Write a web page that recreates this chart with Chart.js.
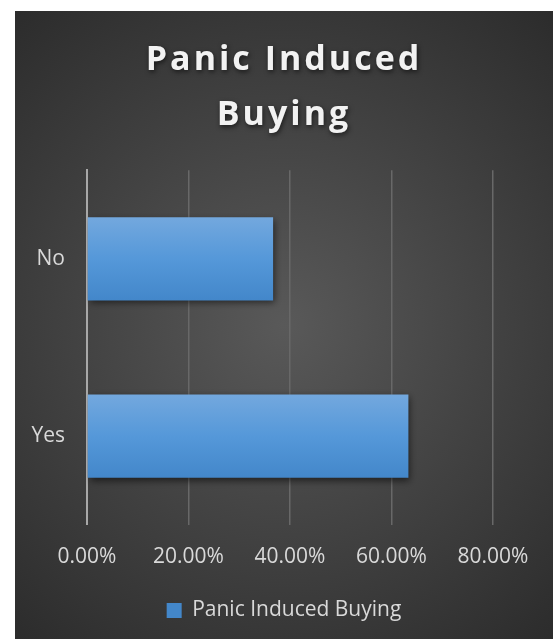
<!DOCTYPE html>
<html>
<head>
<meta charset="utf-8">
<script src="https://cdn.jsdelivr.net/npm/chart.js@4/dist/chart.umd.min.js"></script>
<style>
  body { margin: 0; background: #ffffff; }
  #wrap { width: 553px; height: 639px; }
</style>
</head>
<body>
<div id="wrap"><canvas id="panicChart" width="553" height="639"></canvas></div>
<script>
// chart data
const categories = ['No', 'Yes'];
const seriesName = 'Panic Induced Buying';
const seriesValues = [0.3667, 0.6333];
const titleLines = ['Panic Induced', 'Buying'];
const xTicks = { min: 0, max: 0.8, step: 0.2 };

// dark radial background behind the chart
const backgroundPanel = {
  id: 'backgroundPanel',
  beforeDraw(chart) {
    const ctx = chart.ctx;
    const x = 15, y = 11, w = chart.width - 15, h = chart.height - 11;
    const g = ctx.createRadialGradient(x + w / 2, y + h / 2, 0, x + w / 2, y + h / 2, 430);
    g.addColorStop(0, '#595959');
    g.addColorStop(1, '#2a2a2a');
    ctx.save();
    ctx.fillStyle = g;
    ctx.fillRect(x, y, w, h);
    ctx.restore();
  }
};

// title with letter spacing and a soft shadow
const titleStyle = {
  id: 'titleStyle',
  afterInit(chart) {
    const block = chart.titleBlock;
    const origDraw = block.draw.bind(block);
    block.draw = function () {
      const ctx = chart.ctx;
      ctx.save();
      ctx.letterSpacing = '3px';
      ctx.shadowColor = 'rgba(0,0,0,0.6)';
      ctx.shadowBlur = 5;
      ctx.shadowOffsetX = 1;
      ctx.shadowOffsetY = 2;
      origDraw();
      ctx.restore();
    };
  }
};

// drop shadow under the bars
const barShadow = {
  id: 'barShadow',
  beforeDatasetsDraw(chart) {
    const ctx = chart.ctx;
    ctx.save();
    ctx.shadowColor = 'rgba(0,0,0,0.55)';
    ctx.shadowBlur = 7;
    ctx.shadowOffsetX = 2;
    ctx.shadowOffsetY = 3;
  },
  afterDatasetsDraw(chart) {
    chart.ctx.restore();
  }
};

const barPct = 0.47;

function barFill(context) {
  const chart = context.chart;
  const area = chart.chartArea;
  if (context.dataIndex === undefined || !area) return '#5b9bd5';
  const yScale = chart.scales.y;
  const cy = yScale.getPixelForValue(context.dataIndex);
  const half = (area.bottom - area.top) / categories.length * barPct / 2;
  const g = chart.ctx.createLinearGradient(0, cy - half, 0, cy + half);
  g.addColorStop(0, '#73a8de');
  g.addColorStop(0.5, '#5598d9');
  g.addColorStop(1, '#4387ca');
  return g;
}

new Chart(document.getElementById('panicChart'), {
  type: 'bar',
  data: {
    labels: categories,
    datasets: [{
      label: seriesName,
      data: seriesValues,
      backgroundColor: barFill,
      borderWidth: 0,
      categoryPercentage: 1,
      barPercentage: barPct
    }]
  },
  options: {
    indexAxis: 'y',
    responsive: false,
    animation: false,
    layout: { padding: { left: 15, top: 11, right: 0, bottom: 8 } },
    plugins: {
      title: {
        display: true,
        text: titleLines,
        color: '#f2f2f2',
        font: { family: 'Open Sans', size: 34, weight: 'bold', lineHeight: 1.62 },
        padding: { top: 22, bottom: 27 }
      },
      legend: {
        position: 'bottom',
        labels: {
          color: '#d9d9d9',
          font: { family: 'Open Sans', size: 21 },
          boxWidth: 15,
          boxHeight: 15,
          padding: 10
        }
      },
      tooltip: { enabled: false }
    },
    scales: {
      x: {
        min: xTicks.min,
        max: xTicks.max,
        grid: { color: '#686868', lineWidth: 1.5, drawTicks: false },
        border: { display: false },
        ticks: {
          stepSize: xTicks.step,
          color: '#d9d9d9',
          font: { family: 'Open Sans', size: 21 },
          padding: 20,
          callback: (v) => (v * 100).toFixed(2) + '%'
        }
      },
      y: {
        grid: { display: false, drawTicks: false },
        border: { display: true, color: '#a8a8a8', width: 2 },
        ticks: {
          color: '#d9d9d9',
          font: { family: 'Open Sans', size: 21 },
          padding: 22
        },
        afterFit(scale) { scale.width = 72; }
      },
      // empty right-hand axis that only reserves the space right of the plot
      yRight: {
        type: 'linear',
        position: 'right',
        grid: { display: false, drawTicks: false },
        border: { display: false },
        ticks: { display: false },
        afterFit(scale) { scale.width = 60; }
      }
    }
  },
  plugins: [backgroundPanel, titleStyle, barShadow]
});
</script>
</body>
</html>
